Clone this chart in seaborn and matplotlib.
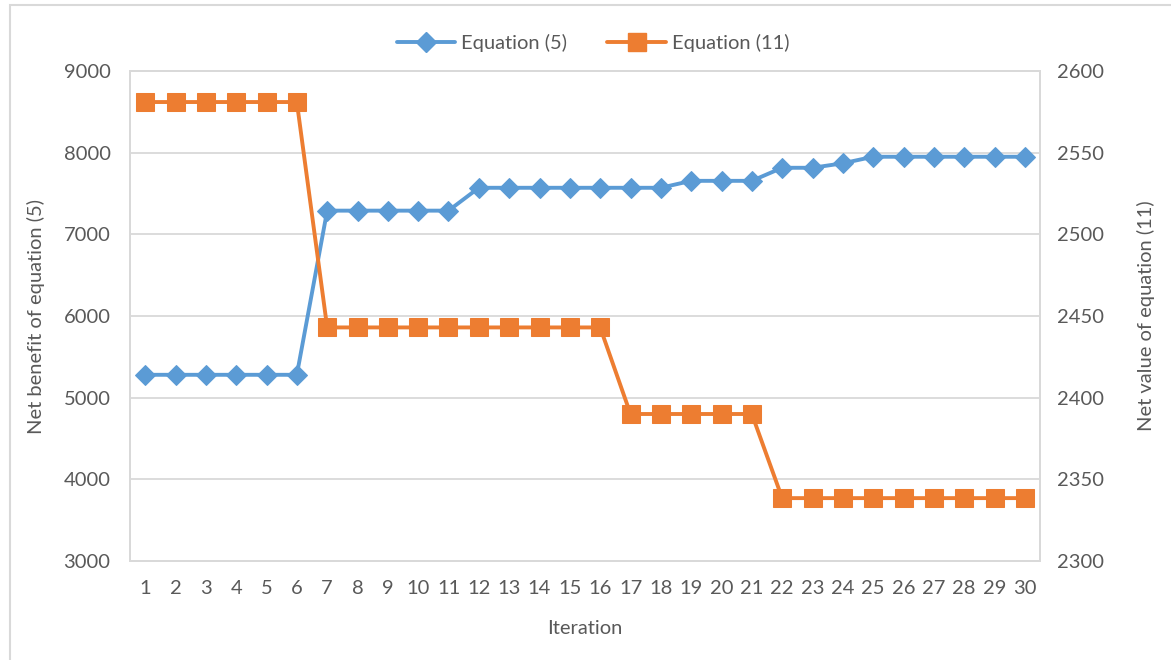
import matplotlib
matplotlib.use("Agg")
import matplotlib.pyplot as plt
import seaborn as sns
import pandas as pd
import numpy as np
from matplotlib.patches import Rectangle
from matplotlib.lines import Line2D

iterations = list(range(1, 31))
eq5 = [5280, 5280, 5280, 5280, 5280, 5280,
       7290, 7290, 7290, 7290, 7290,
       7570, 7570, 7570, 7570, 7570, 7570, 7570,
       7655, 7655, 7655,
       7815, 7815, 7870,
       7950, 7950, 7950, 7950, 7950, 7950]
eq11 = [2581, 2581, 2581, 2581, 2581, 2581,
        2443, 2443, 2443, 2443, 2443, 2443, 2443, 2443, 2443, 2443,
        2390, 2390, 2390, 2390, 2390,
        2338.5, 2338.5, 2338.5, 2338.5, 2338.5, 2338.5, 2338.5, 2338.5, 2338.5]
left_ticks = [3000, 4000, 5000, 6000, 7000, 8000, 9000]
right_ticks = [2300, 2350, 2400, 2450, 2500, 2550, 2600]

sns.set_theme(style="white")
plt.rcParams['font.family'] = ['Lato', 'DejaVu Sans']

BLUE = "#5B9BD5"
ORANGE = "#ED7D31"
GRID = "#D9D9D9"
TXT = "#595959"
FS = 14.5

df = pd.DataFrame({"Iteration": iterations, "eq5": eq5, "eq11": eq11})

fig = plt.figure(figsize=(11.71, 6.60), dpi=100)
ax = fig.add_axes([130/1171, 1-561/660, (1040-130)/1171, (561-71)/660])
ax2 = ax.twinx()

sns.lineplot(data=df, x="Iteration", y="eq5", ax=ax, color=BLUE, linewidth=2.8,
             marker="D", markersize=10.5, markeredgecolor=BLUE, zorder=3)
sns.lineplot(data=df, x="Iteration", y="eq11", ax=ax2, color=ORANGE, linewidth=2.8,
             marker="s", markersize=12.5, markeredgecolor=ORANGE, zorder=3)

ax.set_xlim(0.5, 30.5)
ax.set_ylim(3000, 9000)
ax2.set_ylim(2300, 2600)
ax.set_yticks(left_ticks)
ax2.set_yticks(right_ticks)
ax.set_xticks(iterations)
ax.set_xticklabels([str(i) for i in iterations])
ax.yaxis.grid(True, color=GRID, linewidth=1.3)
ax.set_axisbelow(True)

for a in (ax, ax2):
    for s in a.spines.values():
        s.set_color(GRID)
        s.set_linewidth(1.3)
    a.tick_params(axis="both", length=0, labelsize=FS, colors=TXT)
ax.tick_params(axis="y", pad=14)
ax2.tick_params(axis="y", pad=12)
ax.tick_params(axis="x", pad=14)

ax.set_xlabel("Iteration", fontsize=FS, color=TXT, labelpad=16)
ax.set_ylabel("Net benefit of equation (5)", fontsize=FS, color=TXT, labelpad=13)
ax2.set_ylabel("Net value of equation (11)", fontsize=FS, color=TXT, labelpad=24, rotation=90)

handles = [Line2D([], [], color=BLUE, marker="D", markersize=10.5, linewidth=2.8),
           Line2D([], [], color=ORANGE, marker="s", markersize=12.5, linewidth=2.8)]
fig.legend(handles, ["Equation (5)", "Equation (11)"], loc="center",
           bbox_to_anchor=(593/1171, 1-43/660), ncol=2, frameon=False,
           fontsize=FS, labelcolor=TXT, handlelength=2.9, columnspacing=2.0,
           handletextpad=0.3)

fig.patches.append(Rectangle((10/1171, -0.01), 1.2, 1 - 5/660 + 0.01,
                             transform=fig.transFigure, fill=False,
                             edgecolor=GRID, linewidth=1.5))

fig.savefig("out.png", dpi=100)
